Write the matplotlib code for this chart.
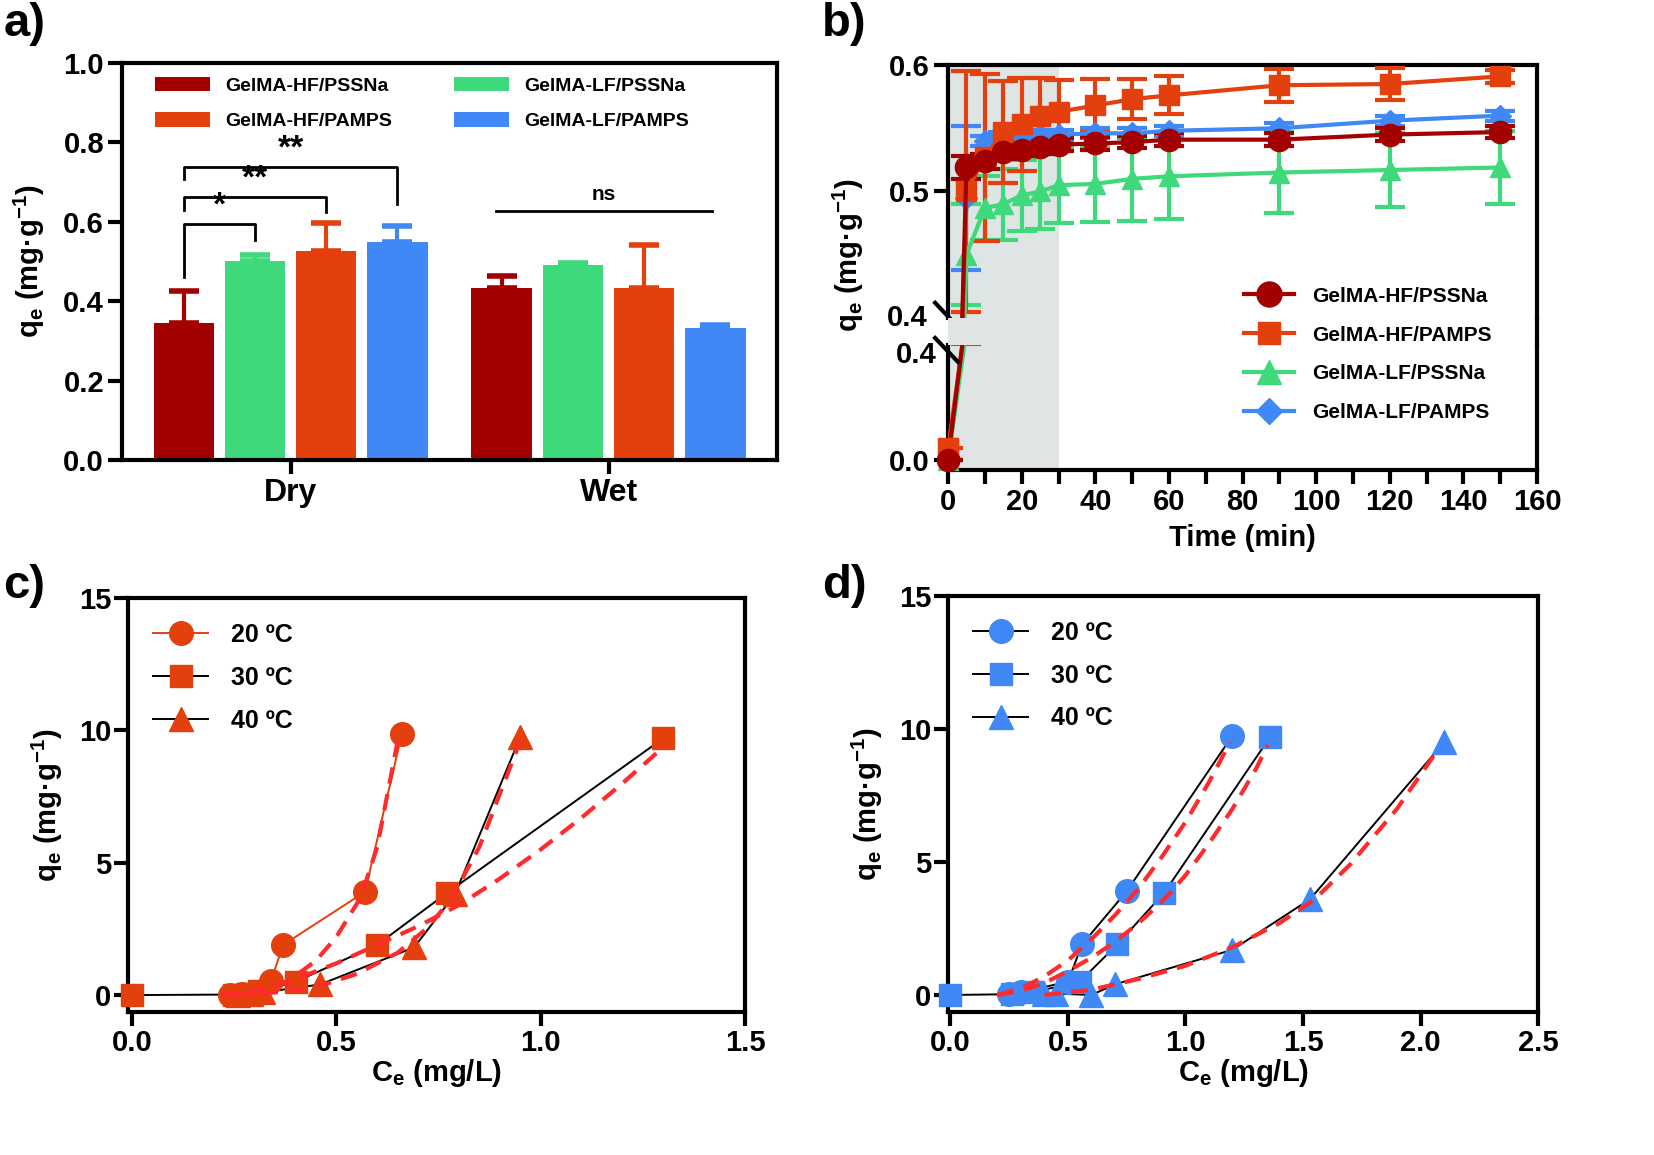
import matplotlib
matplotlib.use("Agg")
import matplotlib.pyplot as plt
import matplotlib.transforms as mtransforms
from matplotlib.patches import Rectangle
from matplotlib.lines import Line2D
import numpy as np

plt.rcParams['font.family'] = ['Liberation Sans', 'DejaVu Sans']
plt.rcParams['font.weight'] = 'bold'
plt.rcParams['axes.labelweight'] = 'bold'
plt.rcParams['mathtext.fontset'] = 'custom'
plt.rcParams['mathtext.rm'] = 'Liberation Sans:bold'
plt.rcParams['mathtext.it'] = 'Liberation Sans:bold'
plt.rcParams['mathtext.bf'] = 'Liberation Sans:bold'
plt.rcParams['mathtext.default'] = 'rm'
plt.rcParams['axes.linewidth'] = 3

# colours
DARKRED = '#a30000'
GREEN = '#3ed97a'
ORANGE = '#e4400d'
BLUE = '#3f88f5'
FITRED = '#ff2b2b'
SHADE = '#dfe5e5'

# ---------------- panel a data ----------------
groups = ['Dry', 'Wet']
hf_pssna_a = [0.345, 0.433]
hf_pssna_a_err = [0.080, 0.030]
lf_pssna_a = [0.500, 0.492]
lf_pssna_a_err = [0.017, 0.005]
hf_pamps_a = [0.527, 0.432]
hf_pamps_a_err = [0.071, 0.110]
lf_pamps_a = [0.548, 0.332]
lf_pamps_a_err = [0.042, 0.008]

# ---------------- panel b data ----------------
time_b = [0, 5, 10, 15, 20, 25, 30, 40, 50, 60, 90, 120, 150]
hf_pssna_b = [0.0, 0.519, 0.524, 0.531, 0.533, 0.535, 0.537, 0.538, 0.539, 0.541, 0.541, 0.545, 0.547]
hf_pssna_b_err = [0.0, 0.009, 0.006, 0.005, 0.005, 0.005, 0.005, 0.005, 0.005, 0.005, 0.005, 0.005, 0.005]
hf_pamps_b = [0.04, 0.500, 0.527, 0.547, 0.553, 0.560, 0.563, 0.568, 0.573, 0.576, 0.584, 0.585, 0.591]
hf_pamps_b_err = [0.0, 0.095, 0.066, 0.040, 0.037, 0.030, 0.025, 0.021, 0.016, 0.015, 0.013, 0.013, 0.005]
lf_pssna_b = [0.0, 0.450, 0.487, 0.490, 0.497, 0.500, 0.505, 0.506, 0.510, 0.512, 0.515, 0.517, 0.519]
lf_pssna_b_err = [0.0, 0.040, 0.025, 0.028, 0.028, 0.030, 0.030, 0.030, 0.033, 0.034, 0.032, 0.029, 0.029]
lf_pamps_b = [0.0, 0.495, 0.540, 0.543, 0.544, 0.545, 0.545, 0.546, 0.546, 0.548, 0.550, 0.556, 0.560]
lf_pamps_b_err = [0.0, 0.057, 0.004, 0.004, 0.004, 0.004, 0.004, 0.004, 0.004, 0.004, 0.004, 0.004, 0.004]

# ---------------- panel c data (HF/PAMPS isotherms) ----------------
c20_x = [0.24, 0.27, 0.30, 0.34, 0.37, 0.57, 0.66]
c20_y = [0.02, 0.05, 0.10, 0.55, 1.9, 3.9, 9.85]
c30_x = [0.0, 0.25, 0.28, 0.31, 0.40, 0.60, 0.77, 1.30]
c30_y = [0.0, 0.02, 0.05, 0.15, 0.50, 1.9, 3.85, 9.7]
c40_x = [0.26, 0.29, 0.32, 0.46, 0.69, 0.79, 0.95]
c40_y = [0.0, 0.05, 0.10, 0.40, 1.8, 3.8, 9.75]
# fitted curves
c20_fit_x = [0.22, 0.30, 0.38, 0.45, 0.50, 0.56, 0.60, 0.65]
c20_fit_y = [0.0, 0.1, 0.5, 1.3, 2.2, 3.7, 5.6, 9.6]
c30_fit_x = [0.22, 0.30, 0.40, 0.50, 0.60, 0.70, 0.80, 0.90, 1.00, 1.10, 1.20, 1.31]
c30_fit_y = [0.0, 0.2, 0.6, 1.2, 1.9, 2.6, 3.4, 4.4, 5.5, 6.7, 8.0, 9.5]
c40_fit_x = [0.25, 0.35, 0.45, 0.55, 0.65, 0.72, 0.78, 0.85, 0.95]
c40_fit_y = [0.0, 0.1, 0.3, 0.8, 1.6, 2.5, 3.6, 5.6, 9.6]

# ---------------- panel d data (LF/PAMPS isotherms) ----------------
d20_x = [0.25, 0.30, 0.50, 0.56, 0.75, 1.20]
d20_y = [0.02, 0.10, 0.50, 1.9, 3.9, 9.75]
d30_x = [0.0, 0.26, 0.35, 0.55, 0.71, 0.91, 1.36]
d30_y = [0.0, 0.03, 0.10, 0.50, 1.9, 3.85, 9.7]
d40_x = [0.40, 0.45, 0.60, 0.70, 1.20, 1.53, 2.10]
d40_y = [0.02, 0.05, 0.0, 0.40, 1.7, 3.6, 9.5]
d20_fit_x = [0.2, 0.3, 0.4, 0.5, 0.6, 0.7, 0.8, 0.9, 1.0, 1.1, 1.19]
d20_fit_y = [0.0, 0.25, 0.7, 1.3, 2.1, 3.0, 4.0, 5.2, 6.5, 8.0, 9.5]
d30_fit_x = [0.2, 0.3, 0.4, 0.5, 0.6, 0.7, 0.8, 0.9, 1.0, 1.1, 1.2, 1.3, 1.35]
d30_fit_y = [0.0, 0.15, 0.45, 0.9, 1.4, 2.0, 2.7, 3.5, 4.5, 5.7, 7.0, 8.5, 9.4]
d40_fit_x = [0.4, 0.6, 0.8, 1.0, 1.2, 1.4, 1.55, 1.7, 1.9, 2.08]
d40_fit_y = [0.0, 0.2, 0.6, 1.1, 1.8, 2.7, 3.6, 4.9, 7.0, 9.3]

QLABEL = 'q$_{e}$ (mg·g$^{-1}$)'
TICKFS = 21
LABFS = 21

fig = plt.figure(figsize=(16.54, 11.55), dpi=100)


def style(ax, pad=3):
    ax.tick_params(direction='out', length=10, width=3, labelsize=TICKFS, pad=pad)
    for lab in ax.get_xticklabels() + ax.get_yticklabels():
        lab.set_fontweight('bold')


# ======================= a) =======================
ax_a = fig.add_axes([0.0738, 0.6017, 0.396, 0.3438])
x = np.arange(len(groups))
w = 0.19
step = 0.224
series_a = [(hf_pssna_a, hf_pssna_a_err, DARKRED, 'GelMA-HF/PSSNa'),
            (lf_pssna_a, lf_pssna_a_err, GREEN, 'GelMA-LF/PSSNa'),
            (hf_pamps_a, hf_pamps_a_err, ORANGE, 'GelMA-HF/PAMPS'),
            (lf_pamps_a, lf_pamps_a_err, BLUE, 'GelMA-LF/PAMPS')]
bar_handles = {}
for i, (vals, errs, col, name) in enumerate(series_a):
    pos = x + (i - 1.5) * step
    b = ax_a.bar(pos, vals, width=w, color=col, label=name, zorder=2)
    ax_a.errorbar(pos, vals, yerr=[np.zeros(len(errs)), errs], fmt='none',
                  ecolor=col, elinewidth=3, capsize=11, capthick=4, zorder=2)
    bar_handles[name] = b

# significance brackets
b1, b2, b3, b4 = [(i - 1.5) * step for i in range(4)]
lk = dict(color='black', lw=2, zorder=3)
ax_a.plot([b1, b1, b2, b2], [0.46, 0.594, 0.594, 0.555], **lk)
ax_a.plot([b1, b1, b3, b3], [0.63, 0.662, 0.662, 0.624], **lk)
ax_a.plot([b1, b1, b4, b4], [0.707, 0.739, 0.739, 0.645], **lk)
ax_a.text((b1 + b2) / 2, 0.600, '*', ha='center', va='bottom', fontsize=24, fontweight='bold')
ax_a.text((b1 + b3) / 2, 0.668, '**', ha='center', va='bottom', fontsize=24, fontweight='bold')
ax_a.text((b1 + b4) / 2, 0.745, '**', ha='center', va='bottom', fontsize=24, fontweight='bold')
ax_a.plot([0.646, 1.326], [0.626, 0.626], **lk)
ax_a.text(0.986, 0.645, 'ns', ha='center', va='bottom', fontsize=15, fontweight='bold')

ax_a.set_xlim(-0.53, 1.53)
ax_a.set_ylim(0, 1.0)
ax_a.set_yticks([0.0, 0.2, 0.4, 0.6, 0.8, 1.0])
ax_a.set_yticklabels(['0.0', '0.2', '0.4', '0.6', '0.8', '1.0'])
ax_a.set_xticks(x)
ax_a.set_xticklabels(groups)
ax_a.set_ylabel(QLABEL, fontsize=LABFS, labelpad=12)
style(ax_a)
for lab in ax_a.get_xticklabels():
    lab.set_fontsize(23)
order = ['GelMA-HF/PSSNa', 'GelMA-HF/PAMPS', 'GelMA-LF/PSSNa', 'GelMA-LF/PAMPS']
leg = ax_a.legend([bar_handles[n] for n in order], order, ncol=2, loc='upper left',
                  frameon=False, fontsize=14, handlelength=2.8, handleheight=0.8,
                  columnspacing=3.2, labelspacing=0.9, borderaxespad=0.3,
                  bbox_to_anchor=(0.03, 1.0))
for t in leg.get_texts():
    t.set_fontweight('bold')

# ======================= b) =======================
ax_bu = fig.add_axes([0.5732, 0.7247, 0.3561, 0.2190])
ax_bl = fig.add_axes([0.5732, 0.5931, 0.3561, 0.1082], sharex=ax_bu)

series_b = [(lf_pamps_b, lf_pamps_b_err, BLUE, 'D', 11, 'GelMA-LF/PAMPS'),
            (lf_pssna_b, lf_pssna_b_err, GREEN, '^', 15, 'GelMA-LF/PSSNa'),
            (hf_pamps_b, hf_pamps_b_err, ORANGE, 's', 14, 'GelMA-HF/PAMPS'),
            (hf_pssna_b, hf_pssna_b_err, DARKRED, 'o', 16, 'GelMA-HF/PSSNa')]
handles_b = {}
for ax in (ax_bu, ax_bl):
    ax.axvspan(0, 30, color=SHADE, zorder=0, lw=0)
    for vals, errs, col, mk, ms, name in series_b:
        ax.errorbar(time_b, vals, yerr=errs, fmt='-', marker=mk, ms=ms, color=col,
                    lw=3, elinewidth=3, capsize=11, capthick=3, zorder=3)
for vals, errs, col, mk, ms, name in series_b:
    ax_bl.plot(time_b[0], vals[0], marker=mk, ms=ms, color=col, clip_on=False, zorder=4)
    handles_b[name] = Line2D([], [], color=col, marker=mk, ms=ms + 2, lw=3)

ax_bu.set_xlim(0, 160)
ax_bu.set_ylim(0.4, 0.6)
ax_bu.set_yticks([0.5, 0.6])
ax_bu.set_yticklabels(['0.5', '0.6'])
ax_bl.set_ylim(-0.035, 0.4)
ax_bl.set_yticks([0.0])
ax_bl.set_yticklabels(['0.0'])
ax_bu.spines['bottom'].set_visible(False)
ax_bl.spines['top'].set_visible(False)
ax_bl.set_xticks(range(0, 161, 20))
ax_bl.set_xticks(range(10, 160, 20), minor=True)
ax_bl.tick_params(axis='x', which='minor', length=10, width=3)
style(ax_bu)
style(ax_bl)
ax_bu.tick_params(axis='x', which='both', bottom=False, labelbottom=False)
ax_bl.set_xlabel('Time (min)', fontsize=LABFS, labelpad=6)

# shading and right frame continue across the break
gap = mtransforms.blended_transform_factory(ax_bl.transData, fig.transFigure)
fig.add_artist(Rectangle((0, 0.7013), 30, 0.7247 - 0.7013, transform=gap,
                         color=SHADE, lw=0, zorder=0.5))
fig.add_artist(Line2D([160, 160], [0.7013, 0.7247], transform=gap, color='black',
                      lw=3, zorder=5))

# "0.4" labels on both sides of the break
ax_bu.text(-0.035, 0.0, '0.4', transform=ax_bu.transAxes, ha='right', va='center',
           fontsize=TICKFS, fontweight='bold')
ax_bl.text(-0.02, 0.92, '0.4', transform=ax_bl.transAxes, ha='right', va='center',
           fontsize=TICKFS, fontweight='bold')
# break marks
bk = dict(color='black', lw=3, clip_on=False, zorder=6)
ax_bu.plot([-0.022, 0.017], [0.06, -0.036], transform=ax_bu.transAxes, **bk)
ax_bl.plot([-0.022, 0.017], [1.056, 0.864], transform=ax_bl.transAxes, **bk)
ax_bu.set_ylabel(QLABEL, fontsize=LABFS, labelpad=10)
ax_bu.yaxis.set_label_coords(-0.14, 0.25)

order_b = ['GelMA-HF/PSSNa', 'GelMA-HF/PAMPS', 'GelMA-LF/PSSNa', 'GelMA-LF/PAMPS']
leg_b = fig.legend([handles_b[n] for n in order_b], order_b, loc='upper left',
                   bbox_to_anchor=(1225 / 1654, 1 - 268 / 1155), frameon=False,
                   fontsize=15, handlelength=2.4, labelspacing=0.95, handletextpad=0.9)
for t in leg_b.get_texts():
    t.set_fontweight('bold')


# ======================= c) and d) =======================
def isotherm(ax, col, data, fits, line20, xlim, xticks):
    markers = ['o', 's', '^']
    sizes = [17, 16, 17]
    labels = ['20 ºC', '30 ºC', '40 ºC']
    lcols = [line20, 'black', 'black']
    hs = []
    for (xx, yy), mk, ms, lc in zip(data, markers, sizes, lcols):
        ax.plot(xx, yy, color=lc, lw=1.4, zorder=2)
        ax.plot(xx, yy, ls='none', marker=mk, ms=ms, color=col, zorder=3, clip_on=False)
    for fx, fy in fits:
        ax.plot(fx, fy, color=FITRED, lw=3, ls=(0, (4, 2.5)), zorder=4)
    for mk, ms, lc, lab in zip(markers, sizes, lcols, labels):
        hs.append(Line2D([], [], color=lc, lw=1.4, marker=mk, ms=ms, mfc=col, mec=col))
    lg = ax.legend(hs, labels, loc='upper left', frameon=False, fontsize=18,
                   handlelength=2.2, labelspacing=0.75, handletextpad=0.9,
                   borderaxespad=0.6)
    for t in lg.get_texts():
        t.set_fontweight('bold')
    ax.set_xlim(*xlim)
    ax.set_ylim(-0.64, 15)
    ax.set_yticks([0, 5, 10, 15])
    ax.set_xticks(xticks)
    ax.set_xticklabels(['%.1f' % v for v in xticks])
    ax.set_xlabel('C$_{e}$ (mg/L)', fontsize=LABFS, labelpad=0)
    ax.set_ylabel(QLABEL, fontsize=LABFS, labelpad=10)
    style(ax, pad=2)


ax_c = fig.add_axes([0.0774, 0.1238, 0.3730, 0.3584])
isotherm(ax_c, ORANGE,
         [(c20_x, c20_y), (c30_x, c30_y), (c40_x, c40_y)],
         [(c20_fit_x, c20_fit_y), (c30_fit_x, c30_fit_y), (c40_fit_x, c40_fit_y)],
         ORANGE, (-0.01, 1.5), [0.0, 0.5, 1.0, 1.5])

ax_d = fig.add_axes([0.5732, 0.1238, 0.3567, 0.3602])
isotherm(ax_d, BLUE,
         [(d20_x, d20_y), (d30_x, d30_y), (d40_x, d40_y)],
         [(d20_fit_x, d20_fit_y), (d30_fit_x, d30_fit_y), (d40_fit_x, d40_fit_y)],
         'black', (-0.01, 2.5), [0.0, 0.5, 1.0, 1.5, 2.0, 2.5])

# panel letters
for lx, ly, s in [(0.002, 0.998, 'a)'), (0.497, 0.998, 'b)'),
                  (0.002, 0.512, 'c)'), (0.497, 0.512, 'd)')]:
    fig.text(lx, ly, s, fontsize=34, fontweight='bold', va='top', ha='left')

fig.savefig('out.png', dpi=100)
